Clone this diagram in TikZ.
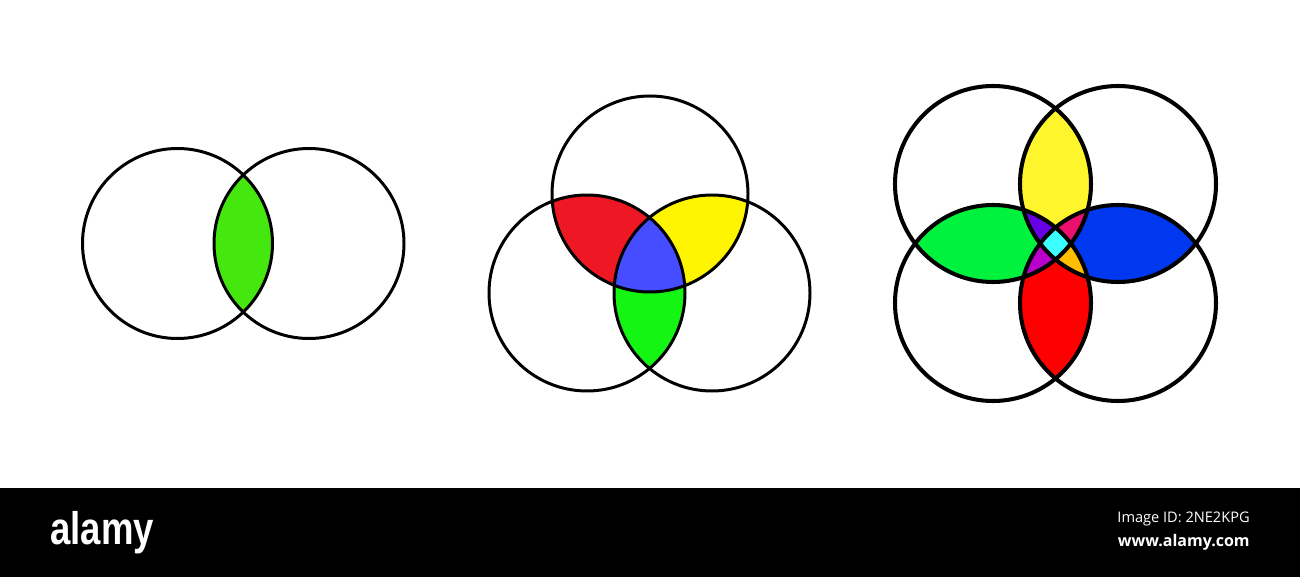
\documentclass[tikz,border=0pt]{standalone}
\usepackage{fontspec}
\newfontfamily\logofont{Liberation Sans}
\newfontfamily\idfont{Open Sans}
\usetikzlibrary{positioning}

\definecolor{lensgreen}{RGB}{68,232,14}
\definecolor{tri-red}{RGB}{238,24,36}
\definecolor{tri-yellow}{RGB}{255,245,0}
\definecolor{tri-blue}{RGB}{70,76,255}
\definecolor{tri-green}{RGB}{20,245,20}
\definecolor{quad-yellow}{RGB}{255,245,45}
\definecolor{quad-green}{RGB}{0,242,62}
\definecolor{quad-blue}{RGB}{0,56,240}
\definecolor{quad-red}{RGB}{255,0,0}
\definecolor{quad-purple}{RGB}{104,0,230}
\definecolor{quad-crimson}{RGB}{235,16,110}
\definecolor{quad-magenta}{RGB}{186,0,205}
\definecolor{quad-orange}{RGB}{255,190,0}
\definecolor{quad-cyan}{RGB}{60,255,255}

\tikzset{
  ring/.style     = {draw=black, line width=1.7pt},
  ringbold/.style = {draw=black, line width=2.3pt},
  logo/.style     = {font=\logofont\bfseries\fontsize{26}{27}\selectfont,
                     text=white, inner sep=0pt, xscale=0.8},
  idtext/.style   = {font=\idfont\fontsize{8.3}{9}\selectfont,
                     text=white, inner sep=0pt},
  urltext/.style  = {font=\idfont\bfseries\fontsize{9.1}{10}\selectfont,
                     text=white, inner sep=0pt},
}

% clip to the first circles, fill the last one
\newcommand{\twoof}[4]{%
  \begin{scope}
    \clip (#2) circle[radius=#4];
    \fill[#1] (#3) circle[radius=#4];
  \end{scope}}
\newcommand{\threeof}[5]{%
  \begin{scope}
    \clip (#2) circle[radius=#5];
    \clip (#3) circle[radius=#5];
    \fill[#1] (#4) circle[radius=#5];
  \end{scope}}

\begin{document}
\begin{tikzpicture}[x=0.2mm, y=-0.2mm]

  \useasboundingbox (0,0) rectangle (1300,577);
  \fill[white] (0,0) rectangle (1300,577);

  % Two sets
  \coordinate (a1) at (177.5,243.5);
  \coordinate (b1) at (309,243.5);
  \twoof{lensgreen}{a1}{b1}{19mm}
  \foreach \c in {a1, b1}
    \draw[ring] (\c) circle[radius=19mm];

  % Three sets
  \coordinate (top)   at (650,194);
  \coordinate (left)  at (587,293);
  \coordinate (right) at (712,293);
  \twoof{tri-red}{top}{left}{19.6mm}
  \twoof{tri-yellow}{top}{right}{19.6mm}
  \twoof{tri-green}{left}{right}{19.6mm}
  \threeof{tri-blue}{top}{left}{right}{19.6mm}
  \foreach \c in {top, left, right}
    \draw[ring] (\c) circle[radius=19.6mm];

  % Four sets
  \coordinate (tl) at (993,184);
  \coordinate (tr) at (1118,184);
  \coordinate (bl) at (993,303);
  \coordinate (br) at (1118,303);
  \twoof{quad-yellow}{tl}{tr}{19.6mm}
  \twoof{quad-green}{tl}{bl}{19.6mm}
  \twoof{quad-blue}{tr}{br}{19.6mm}
  \twoof{quad-red}{bl}{br}{19.6mm}
  \threeof{quad-purple}{tl}{tr}{bl}{19.6mm}
  \threeof{quad-crimson}{tl}{tr}{br}{19.6mm}
  \threeof{quad-magenta}{tl}{bl}{br}{19.6mm}
  \threeof{quad-orange}{tr}{bl}{br}{19.6mm}
  \begin{scope}
    \clip (tl) circle[radius=19.6mm];
    \clip (tr) circle[radius=19.6mm];
    \threeof{quad-cyan}{bl}{br}{br}{19.6mm}
  \end{scope}
  \foreach \c in {tl, tr, bl, br}
    \draw[ringbold] (\c) circle[radius=19.6mm];

  % Bottom bar
  \fill[black] (0,488) rectangle (1300,577);
  \node[logo, anchor=base west]    (brand) at (50,545)   {alamy};
  \node[idtext, anchor=base east]  (imgid) at (1250,523) {Image ID: 2NE2KPG};
  \node[urltext, anchor=base east] (url)   at (1250,547) {www.alamy.com};
\end{tikzpicture}
\end{document}
